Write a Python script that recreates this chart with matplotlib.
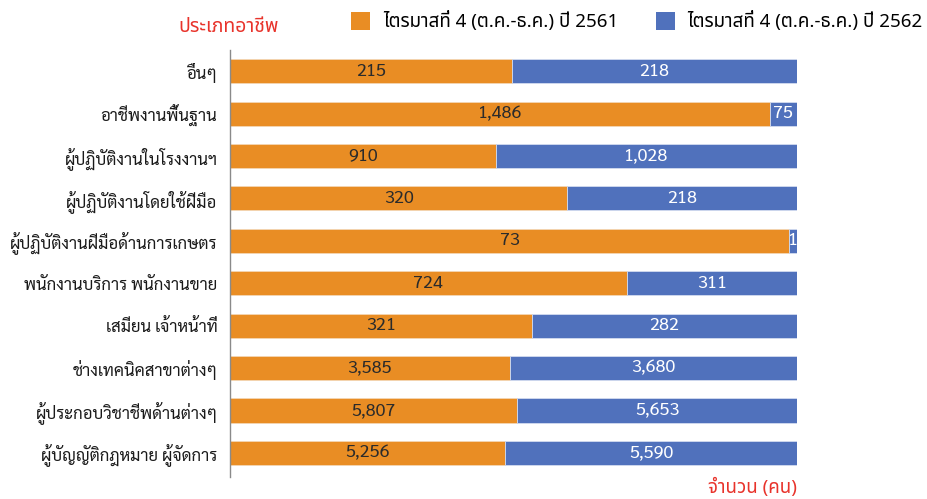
import matplotlib
matplotlib.use("Agg")
import matplotlib.pyplot as plt
from matplotlib import font_manager
from matplotlib.patches import Patch

# ---------------- data ----------------
categories = [
    "อื่นๆ",
    "อาชีพงานพื้นฐาน",
    "ผู้ปฏิบัติงานในโรงงานฯ",
    "ผู้ปฏิบัติงานโดยใช้ฝีมือ",
    "ผู้ปฏิบัติงานฝีมือด้านการเกษตร",
    "พนักงานบริการ พนักงานขาย",
    "เสมียน เจ้าหน้าที่",
    "ช่างเทคนิคสาขาต่างๆ",
    "ผู้ประกอบวิชาชีพด้านต่างๆ",
    "ผู้บัญญัติกฎหมาย ผู้จัดการ",
]
q4_2561 = [215, 1486, 910, 320, 73, 724, 321, 3585, 5807, 5256]
q4_2562 = [218, 75, 1028, 218, 1, 311, 282, 3680, 5653, 5590]
series_names = ["ไตรมาสที่ 4 (ต.ค.-ธ.ค.) ปี 2561", "ไตรมาสที่ 4 (ต.ค.-ธ.ค.) ปี 2562"]
y_title = "ประเภทอาชีพ"
x_title = "จำนวน (คน)"

# ---------------- fonts ----------------
available = {f.name for f in font_manager.fontManager.ttflist}
def pick(cands):
    return [c for c in cands if c in available] + ["DejaVu Sans"]

label_font = pick(["Sarabun", "Noto Sans Thai Looped", "Noto Sans Thai", "IBM Plex Sans Thai Looped"])
legend_font = pick(["Noto Sans Thai", "Kanit", "Prompt", "IBM Plex Sans Thai", "Sarabun"])

orange = "#E98D24"
blue = "#5071BC"
red = "#E8332B"

fig = plt.figure(figsize=(9.27, 4.99), dpi=100)
ax = fig.add_axes([230 / 927, 1 - 477 / 499, (797 - 230) / 927, (477 - 50) / 499])

totals = [a + b for a, b in zip(q4_2561, q4_2562)]
p1 = [a / t for a, t in zip(q4_2561, totals)]
p2 = [b / t for b, t in zip(q4_2562, totals)]
ypos = list(range(len(categories)))

bars1 = ax.barh(ypos, p1, height=0.57, color=orange, edgecolor="#f4d6b4", linewidth=0.6)
bars2 = ax.barh(ypos, p2, left=p1, height=0.57, color=blue, edgecolor="#d3dcef", linewidth=0.6)

for rect, v in zip(bars1, q4_2561):
    ax.text(rect.get_x() + rect.get_width() / 2, rect.get_y() + rect.get_height() / 2,
            f"{v:,}", ha="center", va="center", color="#2b2b2b", fontsize=13, family=label_font)
for rect, v in zip(bars2, q4_2562):
    ax.text(rect.get_x() + rect.get_width() / 2, rect.get_y() + rect.get_height() / 2,
            f"{v:,}", ha="center", va="center", color="white", fontsize=13, family=label_font)

ax.set_xlim(0, 1)
ax.set_ylim(9.57, -0.5)
ax.set_yticks(ypos)
ax.set_yticklabels(categories, family=label_font, fontsize=12, color="#1a1a1a")
ax.tick_params(axis="y", length=0, pad=9)
ax.set_xticks([])
for s in ["top", "right", "bottom"]:
    ax.spines[s].set_visible(False)
ax.spines["left"].set_color("#8a8a8a")
ax.spines["left"].set_linewidth(1.0)

fig.text(229 / 927, 1 - 27 / 499, y_title, ha="center", va="center", color=red,
         fontsize=14, fontweight="bold", family=legend_font)
fig.text(797 / 927, 1 - 487 / 499, x_title, ha="right", va="center", color=red,
         fontsize=13.5, fontweight="bold", family=legend_font)

handles = [Patch(facecolor=orange, edgecolor="none"), Patch(facecolor=blue, edgecolor="none")]
fig.legend(handles, series_names, loc="center left", bbox_to_anchor=(351 / 927, 1 - 21 / 499),
           ncol=2, frameon=False, handlelength=1.0, handleheight=1.1, handletextpad=0.7,
           columnspacing=2.0, prop={"family": legend_font, "size": 13.5}, borderaxespad=0,
           borderpad=0)

fig.savefig("out.png", dpi=100)
